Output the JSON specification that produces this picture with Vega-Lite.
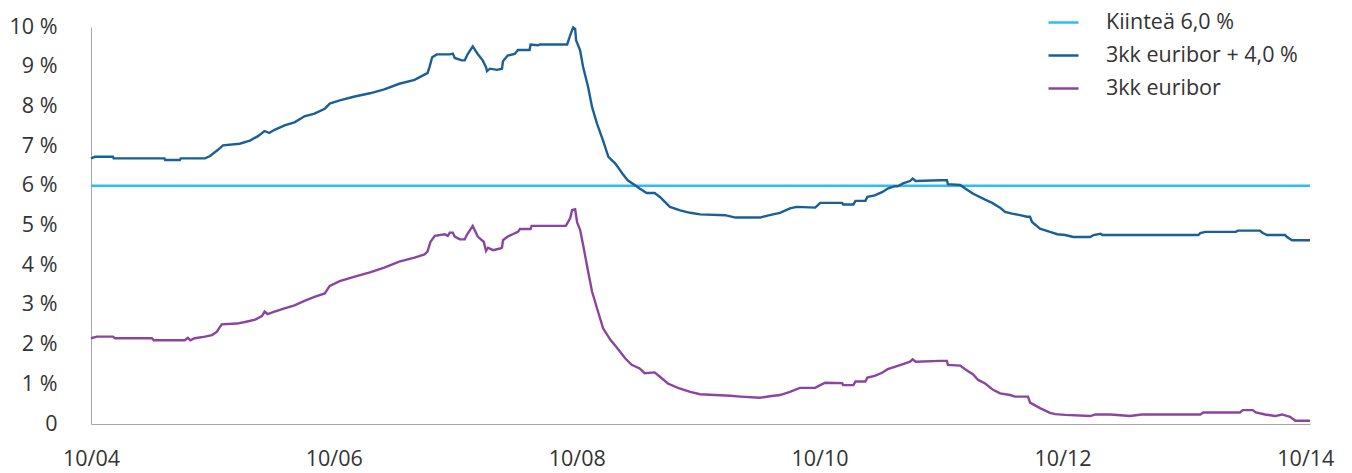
{
  "$schema": "https://vega.github.io/schema/vega-lite/v6.json",
  "width": 1219,
  "height": 397,
  "autosize": {"type": "none"},
  "padding": {"left": 91, "top": 27, "right": 42, "bottom": 49},
  "background": "white",
  "config": {
    "view": {"stroke": null},
    "font": "Open Sans",
    "axis": {"grid": false, "ticks": false, "domainColor": "#a6a6a6", "domainWidth": 1, "labelFont": "Open Sans", "labelFontSize": 21.5, "labelColor": "#333333", "title": null},
    "legend": {"labelFont": "Open Sans", "labelFontSize": 21.5, "labelColor": "#333333"}
  },
  "data": {"values": [
    {"d":"2004-10-01","s":"Kiinteä 6,0 %","v":6.0},
    {"d":"2014-10-15","s":"Kiinteä 6,0 %","v":6.0},
    {"d":"2004-10-01","s":"3kk euribor + 4,0 %","v":6.69},
    {"d":"2004-10-13","s":"3kk euribor + 4,0 %","v":6.73},
    {"d":"2004-12-06","s":"3kk euribor + 4,0 %","v":6.73},
    {"d":"2004-12-08","s":"3kk euribor + 4,0 %","v":6.69},
    {"d":"2005-05-10","s":"3kk euribor + 4,0 %","v":6.69},
    {"d":"2005-05-12","s":"3kk euribor + 4,0 %","v":6.65},
    {"d":"2005-06-25","s":"3kk euribor + 4,0 %","v":6.65},
    {"d":"2005-06-28","s":"3kk euribor + 4,0 %","v":6.69},
    {"d":"2005-09-09","s":"3kk euribor + 4,0 %","v":6.69},
    {"d":"2005-09-24","s":"3kk euribor + 4,0 %","v":6.75},
    {"d":"2005-10-17","s":"3kk euribor + 4,0 %","v":6.90},
    {"d":"2005-11-02","s":"3kk euribor + 4,0 %","v":7.02},
    {"d":"2005-12-22","s":"3kk euribor + 4,0 %","v":7.06},
    {"d":"2006-01-22","s":"3kk euribor + 4,0 %","v":7.14},
    {"d":"2006-02-15","s":"3kk euribor + 4,0 %","v":7.25},
    {"d":"2006-03-07","s":"3kk euribor + 4,0 %","v":7.38},
    {"d":"2006-03-21","s":"3kk euribor + 4,0 %","v":7.33},
    {"d":"2006-04-06","s":"3kk euribor + 4,0 %","v":7.41},
    {"d":"2006-05-06","s":"3kk euribor + 4,0 %","v":7.52},
    {"d":"2006-06-05","s":"3kk euribor + 4,0 %","v":7.60},
    {"d":"2006-07-05","s":"3kk euribor + 4,0 %","v":7.75},
    {"d":"2006-08-04","s":"3kk euribor + 4,0 %","v":7.82},
    {"d":"2006-09-04","s":"3kk euribor + 4,0 %","v":7.94},
    {"d":"2006-09-19","s":"3kk euribor + 4,0 %","v":8.07},
    {"d":"2006-10-19","s":"3kk euribor + 4,0 %","v":8.15},
    {"d":"2006-12-03","s":"3kk euribor + 4,0 %","v":8.25},
    {"d":"2007-01-18","s":"3kk euribor + 4,0 %","v":8.33},
    {"d":"2007-03-02","s":"3kk euribor + 4,0 %","v":8.43},
    {"d":"2007-04-16","s":"3kk euribor + 4,0 %","v":8.57},
    {"d":"2007-06-01","s":"3kk euribor + 4,0 %","v":8.67},
    {"d":"2007-07-01","s":"3kk euribor + 4,0 %","v":8.80},
    {"d":"2007-07-10","s":"3kk euribor + 4,0 %","v":8.84},
    {"d":"2007-07-16","s":"3kk euribor + 4,0 %","v":8.99},
    {"d":"2007-07-24","s":"3kk euribor + 4,0 %","v":9.24},
    {"d":"2007-08-07","s":"3kk euribor + 4,0 %","v":9.31},
    {"d":"2007-09-15","s":"3kk euribor + 4,0 %","v":9.31},
    {"d":"2007-09-24","s":"3kk euribor + 4,0 %","v":9.33},
    {"d":"2007-09-30","s":"3kk euribor + 4,0 %","v":9.22},
    {"d":"2007-10-21","s":"3kk euribor + 4,0 %","v":9.16},
    {"d":"2007-10-30","s":"3kk euribor + 4,0 %","v":9.16},
    {"d":"2007-11-08","s":"3kk euribor + 4,0 %","v":9.32},
    {"d":"2007-11-23","s":"3kk euribor + 4,0 %","v":9.51},
    {"d":"2007-12-08","s":"3kk euribor + 4,0 %","v":9.32},
    {"d":"2007-12-23","s":"3kk euribor + 4,0 %","v":9.16},
    {"d":"2008-01-02","s":"3kk euribor + 4,0 %","v":8.99},
    {"d":"2008-01-05","s":"3kk euribor + 4,0 %","v":8.89},
    {"d":"2008-01-14","s":"3kk euribor + 4,0 %","v":8.95},
    {"d":"2008-02-04","s":"3kk euribor + 4,0 %","v":8.92},
    {"d":"2008-02-19","s":"3kk euribor + 4,0 %","v":8.95},
    {"d":"2008-02-22","s":"3kk euribor + 4,0 %","v":9.14},
    {"d":"2008-03-07","s":"3kk euribor + 4,0 %","v":9.28},
    {"d":"2008-03-28","s":"3kk euribor + 4,0 %","v":9.32},
    {"d":"2008-04-07","s":"3kk euribor + 4,0 %","v":9.42},
    {"d":"2008-05-12","s":"3kk euribor + 4,0 %","v":9.42},
    {"d":"2008-05-15","s":"3kk euribor + 4,0 %","v":9.56},
    {"d":"2008-06-06","s":"3kk euribor + 4,0 %","v":9.54},
    {"d":"2008-06-12","s":"3kk euribor + 4,0 %","v":9.56},
    {"d":"2008-09-02","s":"3kk euribor + 4,0 %","v":9.56},
    {"d":"2008-09-11","s":"3kk euribor + 4,0 %","v":9.79},
    {"d":"2008-09-20","s":"3kk euribor + 4,0 %","v":9.99},
    {"d":"2008-09-26","s":"3kk euribor + 4,0 %","v":9.95},
    {"d":"2008-09-29","s":"3kk euribor + 4,0 %","v":9.66},
    {"d":"2008-10-11","s":"3kk euribor + 4,0 %","v":9.41},
    {"d":"2008-10-20","s":"3kk euribor + 4,0 %","v":8.99},
    {"d":"2008-11-04","s":"3kk euribor + 4,0 %","v":8.49},
    {"d":"2008-11-16","s":"3kk euribor + 4,0 %","v":7.98},
    {"d":"2008-12-01","s":"3kk euribor + 4,0 %","v":7.56},
    {"d":"2008-12-19","s":"3kk euribor + 4,0 %","v":7.14},
    {"d":"2009-01-04","s":"3kk euribor + 4,0 %","v":6.73},
    {"d":"2009-01-25","s":"3kk euribor + 4,0 %","v":6.56},
    {"d":"2009-02-15","s":"3kk euribor + 4,0 %","v":6.31},
    {"d":"2009-03-03","s":"3kk euribor + 4,0 %","v":6.14},
    {"d":"2009-03-24","s":"3kk euribor + 4,0 %","v":6.02},
    {"d":"2009-04-08","s":"3kk euribor + 4,0 %","v":5.93},
    {"d":"2009-04-29","s":"3kk euribor + 4,0 %","v":5.82},
    {"d":"2009-05-23","s":"3kk euribor + 4,0 %","v":5.82},
    {"d":"2009-06-08","s":"3kk euribor + 4,0 %","v":5.72},
    {"d":"2009-07-08","s":"3kk euribor + 4,0 %","v":5.47},
    {"d":"2009-08-08","s":"3kk euribor + 4,0 %","v":5.38},
    {"d":"2009-09-07","s":"3kk euribor + 4,0 %","v":5.32},
    {"d":"2009-10-07","s":"3kk euribor + 4,0 %","v":5.28},
    {"d":"2009-12-21","s":"3kk euribor + 4,0 %","v":5.26},
    {"d":"2010-01-21","s":"3kk euribor + 4,0 %","v":5.20},
    {"d":"2010-04-05","s":"3kk euribor + 4,0 %","v":5.20},
    {"d":"2010-05-04","s":"3kk euribor + 4,0 %","v":5.26},
    {"d":"2010-06-04","s":"3kk euribor + 4,0 %","v":5.32},
    {"d":"2010-07-04","s":"3kk euribor + 4,0 %","v":5.43},
    {"d":"2010-07-24","s":"3kk euribor + 4,0 %","v":5.47},
    {"d":"2010-09-18","s":"3kk euribor + 4,0 %","v":5.45},
    {"d":"2010-10-03","s":"3kk euribor + 4,0 %","v":5.57},
    {"d":"2010-12-08","s":"3kk euribor + 4,0 %","v":5.57},
    {"d":"2010-12-11","s":"3kk euribor + 4,0 %","v":5.53},
    {"d":"2011-01-11","s":"3kk euribor + 4,0 %","v":5.53},
    {"d":"2011-01-17","s":"3kk euribor + 4,0 %","v":5.62},
    {"d":"2011-02-16","s":"3kk euribor + 4,0 %","v":5.62},
    {"d":"2011-02-22","s":"3kk euribor + 4,0 %","v":5.72},
    {"d":"2011-03-16","s":"3kk euribor + 4,0 %","v":5.76},
    {"d":"2011-04-07","s":"3kk euribor + 4,0 %","v":5.84},
    {"d":"2011-04-24","s":"3kk euribor + 4,0 %","v":5.93},
    {"d":"2011-05-15","s":"3kk euribor + 4,0 %","v":5.99},
    {"d":"2011-05-24","s":"3kk euribor + 4,0 %","v":5.99},
    {"d":"2011-06-09","s":"3kk euribor + 4,0 %","v":6.06},
    {"d":"2011-06-30","s":"3kk euribor + 4,0 %","v":6.12},
    {"d":"2011-07-08","s":"3kk euribor + 4,0 %","v":6.18},
    {"d":"2011-07-17","s":"3kk euribor + 4,0 %","v":6.12},
    {"d":"2011-09-29","s":"3kk euribor + 4,0 %","v":6.14},
    {"d":"2011-10-19","s":"3kk euribor + 4,0 %","v":6.14},
    {"d":"2011-10-22","s":"3kk euribor + 4,0 %","v":6.04},
    {"d":"2011-11-28","s":"3kk euribor + 4,0 %","v":6.02},
    {"d":"2011-12-13","s":"3kk euribor + 4,0 %","v":5.93},
    {"d":"2012-01-06","s":"3kk euribor + 4,0 %","v":5.80},
    {"d":"2012-02-11","s":"3kk euribor + 4,0 %","v":5.65},
    {"d":"2012-03-03","s":"3kk euribor + 4,0 %","v":5.57},
    {"d":"2012-03-27","s":"3kk euribor + 4,0 %","v":5.45},
    {"d":"2012-04-11","s":"3kk euribor + 4,0 %","v":5.34},
    {"d":"2012-05-02","s":"3kk euribor + 4,0 %","v":5.30},
    {"d":"2012-05-26","s":"3kk euribor + 4,0 %","v":5.26},
    {"d":"2012-06-16","s":"3kk euribor + 4,0 %","v":5.22},
    {"d":"2012-06-25","s":"3kk euribor + 4,0 %","v":5.22},
    {"d":"2012-07-01","s":"3kk euribor + 4,0 %","v":5.09},
    {"d":"2012-07-25","s":"3kk euribor + 4,0 %","v":4.92},
    {"d":"2012-08-24","s":"3kk euribor + 4,0 %","v":4.84},
    {"d":"2012-09-15","s":"3kk euribor + 4,0 %","v":4.78},
    {"d":"2012-10-09","s":"3kk euribor + 4,0 %","v":4.76},
    {"d":"2012-11-02","s":"3kk euribor + 4,0 %","v":4.71},
    {"d":"2012-12-23","s":"3kk euribor + 4,0 %","v":4.71},
    {"d":"2013-01-02","s":"3kk euribor + 4,0 %","v":4.76},
    {"d":"2013-01-23","s":"3kk euribor + 4,0 %","v":4.79},
    {"d":"2013-01-29","s":"3kk euribor + 4,0 %","v":4.76},
    {"d":"2013-11-13","s":"3kk euribor + 4,0 %","v":4.76},
    {"d":"2013-11-19","s":"3kk euribor + 4,0 %","v":4.81},
    {"d":"2013-12-04","s":"3kk euribor + 4,0 %","v":4.84},
    {"d":"2014-03-06","s":"3kk euribor + 4,0 %","v":4.84},
    {"d":"2014-03-12","s":"3kk euribor + 4,0 %","v":4.87},
    {"d":"2014-05-17","s":"3kk euribor + 4,0 %","v":4.87},
    {"d":"2014-05-26","s":"3kk euribor + 4,0 %","v":4.81},
    {"d":"2014-06-08","s":"3kk euribor + 4,0 %","v":4.76},
    {"d":"2014-08-01","s":"3kk euribor + 4,0 %","v":4.76},
    {"d":"2014-08-07","s":"3kk euribor + 4,0 %","v":4.71},
    {"d":"2014-08-22","s":"3kk euribor + 4,0 %","v":4.63},
    {"d":"2014-10-15","s":"3kk euribor + 4,0 %","v":4.63},
    {"d":"2004-10-01","s":"3kk euribor","v":2.16},
    {"d":"2004-10-19","s":"3kk euribor","v":2.20},
    {"d":"2004-12-06","s":"3kk euribor","v":2.20},
    {"d":"2004-12-12","s":"3kk euribor","v":2.16},
    {"d":"2005-04-02","s":"3kk euribor","v":2.16},
    {"d":"2005-04-08","s":"3kk euribor","v":2.11},
    {"d":"2005-07-10","s":"3kk euribor","v":2.11},
    {"d":"2005-07-19","s":"3kk euribor","v":2.17},
    {"d":"2005-07-27","s":"3kk euribor","v":2.11},
    {"d":"2005-08-09","s":"3kk euribor","v":2.16},
    {"d":"2005-09-09","s":"3kk euribor","v":2.20},
    {"d":"2005-09-30","s":"3kk euribor","v":2.24},
    {"d":"2005-10-14","s":"3kk euribor","v":2.32},
    {"d":"2005-10-29","s":"3kk euribor","v":2.51},
    {"d":"2005-12-14","s":"3kk euribor","v":2.53},
    {"d":"2006-01-07","s":"3kk euribor","v":2.57},
    {"d":"2006-02-07","s":"3kk euribor","v":2.63},
    {"d":"2006-02-27","s":"3kk euribor","v":2.72},
    {"d":"2006-03-07","s":"3kk euribor","v":2.83},
    {"d":"2006-03-16","s":"3kk euribor","v":2.77},
    {"d":"2006-04-06","s":"3kk euribor","v":2.83},
    {"d":"2006-05-06","s":"3kk euribor","v":2.91},
    {"d":"2006-06-05","s":"3kk euribor","v":2.99},
    {"d":"2006-07-05","s":"3kk euribor","v":3.10},
    {"d":"2006-08-04","s":"3kk euribor","v":3.20},
    {"d":"2006-09-04","s":"3kk euribor","v":3.29},
    {"d":"2006-09-19","s":"3kk euribor","v":3.48},
    {"d":"2006-10-19","s":"3kk euribor","v":3.60},
    {"d":"2006-12-03","s":"3kk euribor","v":3.71},
    {"d":"2007-01-18","s":"3kk euribor","v":3.82},
    {"d":"2007-03-02","s":"3kk euribor","v":3.94},
    {"d":"2007-04-16","s":"3kk euribor","v":4.09},
    {"d":"2007-06-01","s":"3kk euribor","v":4.19},
    {"d":"2007-07-01","s":"3kk euribor","v":4.27},
    {"d":"2007-07-10","s":"3kk euribor","v":4.34},
    {"d":"2007-07-19","s":"3kk euribor","v":4.59},
    {"d":"2007-08-01","s":"3kk euribor","v":4.74},
    {"d":"2007-08-31","s":"3kk euribor","v":4.78},
    {"d":"2007-09-09","s":"3kk euribor","v":4.74},
    {"d":"2007-09-15","s":"3kk euribor","v":4.82},
    {"d":"2007-09-24","s":"3kk euribor","v":4.82},
    {"d":"2007-09-30","s":"3kk euribor","v":4.72},
    {"d":"2007-10-15","s":"3kk euribor","v":4.65},
    {"d":"2007-10-30","s":"3kk euribor","v":4.65},
    {"d":"2007-11-05","s":"3kk euribor","v":4.76},
    {"d":"2007-11-23","s":"3kk euribor","v":4.99},
    {"d":"2007-12-08","s":"3kk euribor","v":4.72},
    {"d":"2007-12-26","s":"3kk euribor","v":4.59},
    {"d":"2008-01-02","s":"3kk euribor","v":4.36},
    {"d":"2008-01-08","s":"3kk euribor","v":4.44},
    {"d":"2008-01-23","s":"3kk euribor","v":4.38},
    {"d":"2008-02-13","s":"3kk euribor","v":4.42},
    {"d":"2008-02-19","s":"3kk euribor","v":4.44},
    {"d":"2008-02-22","s":"3kk euribor","v":4.63},
    {"d":"2008-03-07","s":"3kk euribor","v":4.72},
    {"d":"2008-03-22","s":"3kk euribor","v":4.78},
    {"d":"2008-04-07","s":"3kk euribor","v":4.84},
    {"d":"2008-04-13","s":"3kk euribor","v":4.91},
    {"d":"2008-05-15","s":"3kk euribor","v":4.91},
    {"d":"2008-05-18","s":"3kk euribor","v":4.99},
    {"d":"2008-08-29","s":"3kk euribor","v":4.99},
    {"d":"2008-09-11","s":"3kk euribor","v":5.18},
    {"d":"2008-09-17","s":"3kk euribor","v":5.39},
    {"d":"2008-09-26","s":"3kk euribor","v":5.41},
    {"d":"2008-10-02","s":"3kk euribor","v":5.08},
    {"d":"2008-10-11","s":"3kk euribor","v":4.89},
    {"d":"2008-10-20","s":"3kk euribor","v":4.51},
    {"d":"2008-11-04","s":"3kk euribor","v":3.84},
    {"d":"2008-11-16","s":"3kk euribor","v":3.33},
    {"d":"2008-12-01","s":"3kk euribor","v":2.91},
    {"d":"2008-12-19","s":"3kk euribor","v":2.41},
    {"d":"2009-01-10","s":"3kk euribor","v":2.12},
    {"d":"2009-01-31","s":"3kk euribor","v":1.91},
    {"d":"2009-02-24","s":"3kk euribor","v":1.65},
    {"d":"2009-03-15","s":"3kk euribor","v":1.49},
    {"d":"2009-04-08","s":"3kk euribor","v":1.40},
    {"d":"2009-04-23","s":"3kk euribor","v":1.28},
    {"d":"2009-05-23","s":"3kk euribor","v":1.30},
    {"d":"2009-06-08","s":"3kk euribor","v":1.19},
    {"d":"2009-07-02","s":"3kk euribor","v":1.02},
    {"d":"2009-08-01","s":"3kk euribor","v":0.91},
    {"d":"2009-09-07","s":"3kk euribor","v":0.81},
    {"d":"2009-10-07","s":"3kk euribor","v":0.75},
    {"d":"2009-11-21","s":"3kk euribor","v":0.73},
    {"d":"2010-01-06","s":"3kk euribor","v":0.71},
    {"d":"2010-02-05","s":"3kk euribor","v":0.69},
    {"d":"2010-04-05","s":"3kk euribor","v":0.66},
    {"d":"2010-05-04","s":"3kk euribor","v":0.70},
    {"d":"2010-06-04","s":"3kk euribor","v":0.73},
    {"d":"2010-07-04","s":"3kk euribor","v":0.81},
    {"d":"2010-08-03","s":"3kk euribor","v":0.91},
    {"d":"2010-09-18","s":"3kk euribor","v":0.91},
    {"d":"2010-10-03","s":"3kk euribor","v":0.98},
    {"d":"2010-10-18","s":"3kk euribor","v":1.04},
    {"d":"2010-12-08","s":"3kk euribor","v":1.03},
    {"d":"2010-12-11","s":"3kk euribor","v":0.98},
    {"d":"2011-01-11","s":"3kk euribor","v":0.98},
    {"d":"2011-01-17","s":"3kk euribor","v":1.07},
    {"d":"2011-02-16","s":"3kk euribor","v":1.07},
    {"d":"2011-02-22","s":"3kk euribor","v":1.17},
    {"d":"2011-03-16","s":"3kk euribor","v":1.21},
    {"d":"2011-04-07","s":"3kk euribor","v":1.29},
    {"d":"2011-04-24","s":"3kk euribor","v":1.38},
    {"d":"2011-05-15","s":"3kk euribor","v":1.44},
    {"d":"2011-06-09","s":"3kk euribor","v":1.51},
    {"d":"2011-06-30","s":"3kk euribor","v":1.57},
    {"d":"2011-07-08","s":"3kk euribor","v":1.63},
    {"d":"2011-07-17","s":"3kk euribor","v":1.57},
    {"d":"2011-09-29","s":"3kk euribor","v":1.59},
    {"d":"2011-10-19","s":"3kk euribor","v":1.59},
    {"d":"2011-10-22","s":"3kk euribor","v":1.49},
    {"d":"2011-11-28","s":"3kk euribor","v":1.47},
    {"d":"2011-12-13","s":"3kk euribor","v":1.38},
    {"d":"2012-01-06","s":"3kk euribor","v":1.25},
    {"d":"2012-01-21","s":"3kk euribor","v":1.11},
    {"d":"2012-02-11","s":"3kk euribor","v":1.02},
    {"d":"2012-03-06","s":"3kk euribor","v":0.86},
    {"d":"2012-03-27","s":"3kk euribor","v":0.77},
    {"d":"2012-04-26","s":"3kk euribor","v":0.73},
    {"d":"2012-05-11","s":"3kk euribor","v":0.69},
    {"d":"2012-06-19","s":"3kk euribor","v":0.69},
    {"d":"2012-06-25","s":"3kk euribor","v":0.54},
    {"d":"2012-07-25","s":"3kk euribor","v":0.40},
    {"d":"2012-08-24","s":"3kk euribor","v":0.28},
    {"d":"2012-09-09","s":"3kk euribor","v":0.25},
    {"d":"2012-10-09","s":"3kk euribor","v":0.23},
    {"d":"2012-12-23","s":"3kk euribor","v":0.20},
    {"d":"2013-01-08","s":"3kk euribor","v":0.24},
    {"d":"2013-02-22","s":"3kk euribor","v":0.24},
    {"d":"2013-04-22","s":"3kk euribor","v":0.20},
    {"d":"2013-05-27","s":"3kk euribor","v":0.24},
    {"d":"2013-11-19","s":"3kk euribor","v":0.24},
    {"d":"2013-11-28","s":"3kk euribor","v":0.29},
    {"d":"2014-03-18","s":"3kk euribor","v":0.29},
    {"d":"2014-03-27","s":"3kk euribor","v":0.35},
    {"d":"2014-04-26","s":"3kk euribor","v":0.35},
    {"d":"2014-05-05","s":"3kk euribor","v":0.29},
    {"d":"2014-06-02","s":"3kk euribor","v":0.24},
    {"d":"2014-07-02","s":"3kk euribor","v":0.20},
    {"d":"2014-07-23","s":"3kk euribor","v":0.24},
    {"d":"2014-08-16","s":"3kk euribor","v":0.18},
    {"d":"2014-09-01","s":"3kk euribor","v":0.08},
    {"d":"2014-10-15","s":"3kk euribor","v":0.08}
  ]},
  "mark": {"type": "line", "strokeWidth": 2.4, "interpolate": "linear", "clip": false},
  "encoding": {
    "x": {
      "field": "d", "type": "temporal",
      "scale": {"type": "utc", "domain": [{"year": 2004, "month": 10, "date": 1, "utc": true}, {"year": 2014, "month": 10, "date": 15, "utc": true}]},
      "axis": {
        "values": [
          {"year": 2004, "month": 10, "date": 1, "utc": true},
          {"year": 2006, "month": 10, "date": 1, "utc": true},
          {"year": 2008, "month": 10, "date": 1, "utc": true},
          {"year": 2010, "month": 10, "date": 1, "utc": true},
          {"year": 2012, "month": 10, "date": 1, "utc": true},
          {"year": 2014, "month": 10, "date": 1, "utc": true}
        ],
        "labelExpr": "utcFormat(datum.value, '%m/%y')", "labelPadding": 24, "labelOverlap": false, "labelFlush": false
      }
    },
    "y": {
      "field": "v", "type": "quantitative",
      "scale": {"domain": [0, 10], "nice": false, "zero": true},
      "axis": {"values": [0,1,2,3,4,5,6,7,8,9,10], "labelExpr": "datum.value == 0 ? '0' : datum.value + ' %'", "labelPadding": 34}
    },
    "color": {
      "field": "s", "type": "nominal",
      "scale": {"domain": ["Kiinteä 6,0 %", "3kk euribor + 4,0 %", "3kk euribor"], "range": ["#2bbfec", "#1a5f98", "#8a45a0"]},
      "legend": {"title": null, "orient": "none", "legendX": 956, "legendY": -21, "symbolType": "stroke", "symbolSize": 900, "symbolStrokeWidth": 2.5, "labelOffset": 26, "rowPadding": 6, "labelLimit": 0}
    },
    "order": {"value": 0}
  }
}
